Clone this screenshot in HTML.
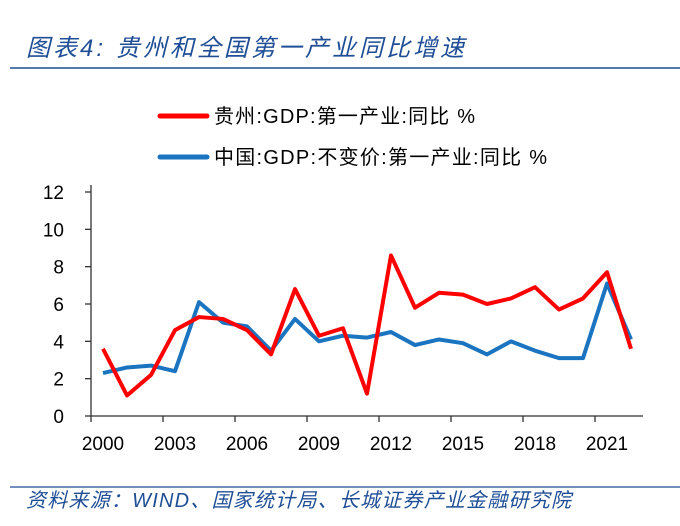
<!DOCTYPE html>
<html><head><meta charset="utf-8"><style>
body{margin:0;background:#fff;width:680px;height:521px;overflow:hidden;font-family:"Liberation Sans","Noto Sans CJK SC",sans-serif}
</style></head><body>
<svg width="680" height="521" xmlns="http://www.w3.org/2000/svg">
<text x="26" y="56" font-size="24" font-style="italic" fill="#1f4e96" textLength="438" lengthAdjust="spacing">图表4:  贵州和全国第一产业同比增速</text>
<line x1="10" y1="68" x2="680" y2="68" stroke="#1f4e96" stroke-width="1.5"/>
<g>
<line x1="160" y1="116" x2="207" y2="116" stroke="#ff0000" stroke-width="5" stroke-linecap="round"/>
<text x="214" y="123" font-size="20" fill="#000" textLength="261" lengthAdjust="spacing">贵州:GDP:第一产业:同比 %</text>
<line x1="160" y1="157" x2="207" y2="157" stroke="#1a74c0" stroke-width="5" stroke-linecap="round"/>
<text x="214" y="164" font-size="20" fill="#000" textLength="333" lengthAdjust="spacing">中国:GDP:不变价:第一产业:同比 %</text>
</g>
<g id="plot"></g>
<line x1="10" y1="487" x2="680" y2="487" stroke="#1f4e96" stroke-width="1.2"/>
<text x="26" y="507" font-size="20" font-style="italic" fill="#1f4e96" textLength="545" lengthAdjust="spacing">资料来源：WIND、国家统计局、长城证券产业金融研究院</text>
</svg>
<script>
const years=[2000,2001,2002,2003,2004,2005,2006,2007,2008,2009,2010,2011,2012,2013,2014,2015,2016,2017,2018,2019,2020,2021,2022];
const guizhou=[3.6,1.1,2.2,4.6,5.3,5.2,4.6,3.3,6.8,4.3,4.7,1.2,8.6,5.8,6.6,6.5,6.0,6.3,6.9,5.7,6.3,7.7,3.6];
const china=[2.3,2.6,2.7,2.4,6.1,5.0,4.8,3.5,5.2,4.0,4.3,4.2,4.5,3.8,4.1,3.9,3.3,4.0,3.5,3.1,3.1,7.1,4.1];
const yTicks=[0,2,4,6,8,10,12];
const xLabels=[2000,2003,2006,2009,2012,2015,2018,2021];
const NS="http://www.w3.org/2000/svg";
const g=document.getElementById('plot');
const x0=91,bw=24,yb=416,yt=192,ymax=12;
const xs=i=>x0+bw*(i+0.5);
const ys=v=>yb-(v/ymax)*(yb-yt);
function mk(t,a){const e=document.createElementNS(NS,t);for(const k in a)e.setAttribute(k,a[k]);g.appendChild(e);return e;}
const ya=mk('line',{x1:x0,y1:185,x2:x0,y2:yb,stroke:'#333','stroke-width':1.3});


yTicks.forEach(v=>{
 const tk=mk('line',{x1:x0-6,y1:ys(v),x2:x0,y2:ys(v),stroke:'#333','stroke-width':1.3});
 
 
 const t=mk('text',{x:x0-27,y:ys(v)+7,'font-size':19,'text-anchor':'end',fill:'#000'});
 t.textContent=v;
 
 
});
const xa=mk('line',{x1:x0,y1:yb,x2:x0+bw*years.length,y2:yb,stroke:'#333','stroke-width':1.3});


xLabels.forEach(y=>{
 const i=years.indexOf(y);
 const tx=x0+bw*i;
 const tk=mk('line',{x1:tx,y1:yb,x2:tx,y2:yb+6,stroke:'#333','stroke-width':1.3});
 
 
 const t=mk('text',{x:xs(i),y:yb+34,'font-size':19,'text-anchor':'middle',fill:'#000'});
 t.textContent=y;
 
 
});
function line(vals,color,name){
 const p=mk('polyline',{points:vals.map((v,i)=>xs(i)+','+ys(v)).join(' '),fill:'none',stroke:color,'stroke-width':4,'stroke-linejoin':'round'});
 
 
}
line(china,'#1a74c0','series-china');
line(guizhou,'#ff0000','series-guizhou');
</script>
</body></html>
